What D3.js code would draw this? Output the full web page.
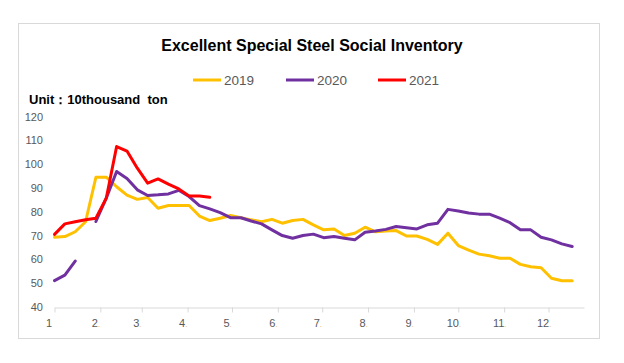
<!DOCTYPE html>
<html>
<head>
<meta charset="utf-8">
<script src="https://cdn.jsdelivr.net/npm/d3@7"></script>
<style>
	body { margin: 0; background: #fff; }
	text { font-family: "Liberation Sans", Arial, sans-serif; }
</style>
</head>
<body>
<svg id="chart"></svg>
<script>
(function(){

	//Chart data (weekly)
	var seriesNames = ["2019", "2020", "2021"];
	var seriesColors = ["#FFC000", "#7030A0", "#FF0000"];
	var monthLabels = ["1", "2", "3", "4", "5", "6", "7", "8", "9", "10", "11", "12"];
	var yTicks = [40, 50, 60, 70, 80, 90, 100, 110, 120];

	var values2019 = [69.3, 69.6, 71.6, 75.8, 94.5, 94.5, 90.5, 87.0, 85.2, 86.0,
		81.5, 82.6, 82.6, 82.6, 78.2, 76.3, 77.3, 78.4, 77.5, 76.6,
		75.8, 76.8, 75.2, 76.3, 76.8, 74.5, 72.4, 72.8, 70.0, 71.0,
		73.5, 71.6, 71.9, 72.1, 69.8, 69.8, 68.4, 66.3, 71.0, 65.8,
		63.9, 62.2, 61.5, 60.5, 60.5, 57.9, 56.9, 56.5, 52.1, 51.0, 51.0];
	var values2020 = [51.1, 53.4, 59.3, null, 75.9, 85.7, 96.9, 94.0, 89.2, 86.8,
		87.1, 87.5, 89.0, 86.4, 82.6, 81.2, 79.6, 77.5, 77.5, 76.1,
		74.9, 72.4, 70.0, 68.9, 70.0, 70.6, 69.1, 69.6, 68.9, 68.2,
		71.4, 71.9, 72.6, 73.8, 73.3, 72.8, 74.5, 75.2, 81.0, 80.3,
		79.5, 79.0, 79.0, 77.3, 75.4, 72.4, 72.4, 69.3, 68.2, 66.5, 65.4];
	var values2021 = [70.5, 74.9, 75.8, 76.6, 77.3, 85.7, 107.4, 105.5, 98.3, 92.0,
		93.8, 91.6, 89.6, 86.6, 86.6, 86.1];

	//SVG Configurations
	var svgWidth = 624;
	var svgHeight = 363;
	var axisColor = "#d9d9d9";
	var labelColor = "#595959";

	//one category per week, starting from the first week of the year
	var startDate = new Date(2019, 0, 1);
	var weekDates = d3.range(values2019.length).map(function(i){
		return d3.timeDay.offset(startDate, 7 * i);
	});

	var svg = d3.select("#chart")
		.attr("width", svgWidth)
		.attr("height", svgHeight);

	//outer chart border
	svg.append("rect")
		.attr("x", 18.5)
		.attr("y", 23.5)
		.attr("width", 581)
		.attr("height", 315)
		.attr("fill", "none")
		.attr("stroke", axisColor);

	var x = d3.scaleTime()
		.domain([startDate, new Date(2019, 11, 25)])
		.range([54.5, 584]);

	var y = d3.scaleLinear()
		.domain([40, 120])
		.range([307, 116.5]);

	//Title
	svg.append("text")
		.attr("x", 312)
		.attr("y", 51)
		.attr("text-anchor", "middle")
		.attr("font-size", "16px")
		.attr("font-weight", "bold")
		.attr("fill", "#000")
		.text("Excellent Special Steel Social Inventory");

	//Unit label
	svg.append("text")
		.attr("x", 29)
		.attr("y", 104)
		.attr("font-size", "13px")
		.attr("font-weight", "bold")
		.attr("fill", "#000")
		.style("white-space", "pre")
		.text("Unit：10thousand  ton");

	//Legend
	var legendX = [193, 286, 378];
	var legend = svg.selectAll(".legendItem")
		.data(seriesNames)
		.enter()
		.append("g")
		.classed("legendItem", true)
		.attr("transform", function(d, i){ return "translate(" + legendX[i] + ",80)"; });

	legend.append("line")
		.attr("x1", 0)
		.attr("x2", 28)
		.attr("stroke-width", 3)
		.attr("stroke", function(d, i){ return seriesColors[i]; });

	legend.append("text")
		.attr("x", 31)
		.attr("y", 4.5)
		.attr("font-size", "13.5px")
		.attr("fill", labelColor)
		.text(function(d){ return d; });

	//Y axis (labels only)
	var yAxis = svg.append("g")
		.attr("transform", "translate(47,0)")
		.call(d3.axisLeft(y).tickValues(yTicks).tickSize(0).tickPadding(4));
	yAxis.select(".domain").remove();
	yAxis.selectAll("text")
		.attr("font-size", "11px")
		.attr("font-family", "Liberation Sans, Arial, sans-serif")
		.attr("fill", labelColor);

	//X axis, one tick per month
	var monthStarts = d3.timeMonth.range(startDate, new Date(2019, 11, 2));
	var xAxis = svg.append("g")
		.attr("transform", "translate(0,307.5)")
		.call(d3.axisBottom(x)
			.tickValues(monthStarts)
			.tickSize(5)
			.tickSizeOuter(0)
			.tickPadding(7)
			.tickFormat(function(d, i){ return monthLabels[i]; }));
	xAxis.select(".domain").attr("stroke", axisColor);
	xAxis.selectAll(".tick line").attr("stroke", axisColor);
	xAxis.selectAll("text")
		.attr("font-size", "11px")
		.attr("font-family", "Liberation Sans, Arial, sans-serif")
		.attr("fill", labelColor)
		.attr("dx", function(d, i){ return i === 0 ? -6 : -5; });
	//small trailing mark that sits after each month label
	xAxis.selectAll("text")
		.filter(function(d, i){ return i > 0; })
		.append("tspan")
		.attr("font-size", "7px")
		.attr("fill", "#f0a040")
		.text(".");

	//Lines
	var seriesValues = [values2019, values2020, values2021];
	var line = d3.line()
		.defined(function(d){ return d != null; })
		.x(function(d, i){ return x(weekDates[i]); })
		.y(function(d){ return y(d); });

	svg.selectAll(".seriesLine")
		.data(seriesValues)
		.enter()
		.append("path")
		.classed("seriesLine", true)
		.attr("d", line)
		.attr("fill", "none")
		.attr("stroke", function(d, i){ return seriesColors[i]; })
		.attr("stroke-width", 3)
		.attr("stroke-linejoin", "round")
		.attr("stroke-linecap", "round");

})();
</script>
</body>
</html>
